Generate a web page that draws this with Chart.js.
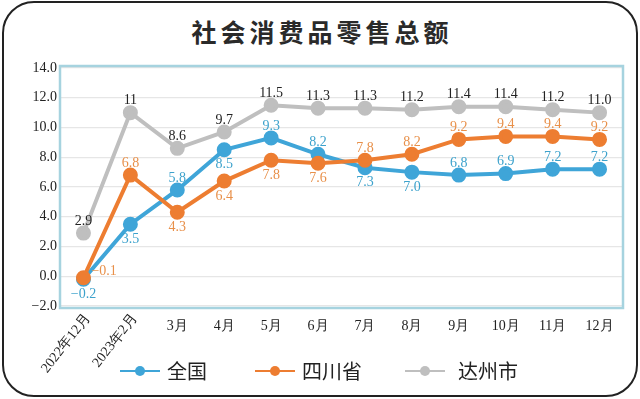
<!DOCTYPE html>
<html>
<head>
<meta charset="utf-8">
<script src="https://cdn.jsdelivr.net/npm/chart.js@4"></script>
<style>
  html, body { margin: 0; padding: 0; background: #fff; }
  #wrap { position: relative; width: 640px; height: 399px; overflow: hidden; }
  #frame { position: absolute; left: 2px; top: 1px; width: 632px; height: 392px;
    border: 2px solid #222; border-radius: 32px; }
  #title { position: absolute; left: 0; top: 13px; width: 640px; text-align: center;
    font: bold 25px "Noto Sans CJK SC"; color: #2a2a2a; letter-spacing: 4px; text-indent: 4px; }
  canvas { position: absolute; left: 0; top: 0; }
  #legend { position: absolute; top: 356px; left: 0; width: 640px; height: 30px; }
  .item { position: absolute; top: 0; height: 30px; font: 20px "Noto Sans CJK SC"; color: #222; line-height: 30px; }
  .mark { position: absolute; top: 14px; width: 40px; height: 2px; }
  .dot { position: absolute; left: 15px; top: -4px; width: 10px; height: 10px; border-radius: 50%; }
</style>
</head>
<body>
<div id="wrap">
  <div id="frame"></div>
  <div id="title">社会消费品零售总额</div>
  <canvas id="chart" width="640" height="399"></canvas>
  <div id="legend"></div>
</div>
<script>
const categories = ['2022年12月', '2023年2月', '3月', '4月', '5月', '6月', '7月', '8月', '9月', '10月', '11月', '12月'];
const seriesNames = ['全国', '四川省', '达州市'];
const national = [-0.2, 3.5, 5.8, 8.5, 9.3, 8.2, 7.3, 7.0, 6.8, 6.9, 7.2, 7.2];
const sichuan = [-0.1, 6.8, 4.3, 6.4, 7.8, 7.6, 7.8, 8.2, 9.2, 9.4, 9.4, 9.2];
const dazhou = [2.9, 11, 8.6, 9.7, 11.5, 11.3, 11.3, 11.2, 11.4, 11.4, 11.2, 11.0];
const dazhouText = ['2.9', '11', '8.6', '9.7', '11.5', '11.3', '11.3', '11.2', '11.4', '11.4', '11.2', '11.0'];
const yTicks = [-2, 0, 2, 4, 6, 8, 10, 12, 14];

// where each value label sits relative to its point
const nationalPos = ['below', 'below', 'above', 'below', 'above', 'above', 'below', 'below', 'above', 'above', 'above', 'above'];
const sichuanPos = ['right', 'above', 'below', 'below', 'below', 'below', 'above', 'above', 'above', 'above', 'above', 'above'];
const dazhouPos = dazhou.map(() => 'above');

const colors = ['#3fa5d8', '#ed7d31', '#bfbfbf'];
const labelColors = ['#3da2cc', '#e8904a', '#222'];
const serif = '"Liberation Serif", "DejaVu Serif", serif';

// legend
const legend = document.getElementById('legend');
[[120, 167], [255, 302], [405, 458]].forEach((p, i) => {
  const m = document.createElement('div');
  m.className = 'mark';
  m.style.left = p[0] + 'px';
  m.style.background = colors[i];
  const d = document.createElement('div');
  d.className = 'dot';
  d.style.background = colors[i];
  m.appendChild(d);
  legend.appendChild(m);
  const t = document.createElement('div');
  t.className = 'item';
  t.style.left = p[1] + 'px';
  t.textContent = seriesNames[i];
  legend.appendChild(t);
});

const texts = [national.map(v => v.toFixed(1)), sichuan.map(v => v.toFixed(1)), dazhouText];
const positions = [nationalPos, sichuanPos, dazhouPos];

const extras = {
  id: 'extras',
  beforeDatasetsDraw(chart) {
    const { ctx, chartArea: a } = chart;
    ctx.save();
    ctx.strokeStyle = '#a6d3df';
    ctx.lineWidth = 2.5;
    ctx.strokeRect(a.left, a.top - 2, a.right - a.left, a.bottom - a.top + 4);
    ctx.restore();
  },
  afterDatasetsDraw(chart) {
    const { ctx } = chart;
    const x = chart.scales.x;
    ctx.save();
    ctx.font = '14px ' + serif;
    ctx.fillStyle = '#222';
    categories.forEach((c, i) => {
      const px = x.getPixelForValue(i);
      if (i < 2) {
        ctx.save();
        ctx.translate(px + 4, 316);
        ctx.rotate(-52 * Math.PI / 180);
        ctx.textAlign = 'right';
        ctx.textBaseline = 'middle';
        ctx.fillText(c, 0, 0);
        ctx.restore();
      } else {
        ctx.textAlign = 'center';
        ctx.textBaseline = 'middle';
        ctx.fillText(c, px, 326);
      }
    });
    // value labels
    chart.data.datasets.forEach((ds, di) => {
      const s = ds.seriesIndex;
      const meta = chart.getDatasetMeta(di);
      ctx.fillStyle = labelColors[s];
      meta.data.forEach((pt, i) => {
        let tx = pt.x, ty = pt.y - 12;
        ctx.textAlign = 'center';
        if (positions[s][i] === 'below') ty = pt.y + 15;
        if (positions[s][i] === 'right') { tx = pt.x + 8; ty = pt.y - 6; ctx.textAlign = 'left'; }
        ctx.fillText(texts[s][i].replace('-', '\u2212'), tx, ty);
      });
    });
    ctx.restore();
  }
};

new Chart(document.getElementById('chart'), {
  type: 'line',
  data: {
    labels: categories,
    datasets: [
      { label: seriesNames[2], seriesIndex: 2, data: dazhou, borderColor: colors[2], backgroundColor: colors[2] },
      { label: seriesNames[1], seriesIndex: 1, data: sichuan, borderColor: colors[1], backgroundColor: colors[1] },
      { label: seriesNames[0], seriesIndex: 0, data: national, borderColor: colors[0], backgroundColor: colors[0] }
    ].map(d => Object.assign(d, { borderWidth: 4, pointRadius: 5.5, pointHoverRadius: 5.5, tension: 0 }))
  },
  options: {
    responsive: false,
    animation: false,
    events: [],
    layout: { padding: { left: 10, right: 17, top: 68, bottom: 93 } },
    plugins: { legend: { display: false }, tooltip: { enabled: false } },
    scales: {
      x: {
        offset: true,
        grid: { display: false },
        border: { display: false },
        ticks: { display: false },
        afterFit(s) { s.height = 0; }
      },
      y: {
        min: -2, max: 14,
        afterBuildTicks(s) { s.ticks = yTicks.map(v => ({ value: v })); },
        afterFit(s) { s.width = 50; },
        grid: { color: '#e6e6e6', lineWidth: 1.2, drawTicks: false },
        border: { display: false },
        ticks: {
          padding: 3,
          color: '#222',
          font: { family: serif, size: 14 },
          callback: v => v.toFixed(1).replace('-', '\u2212')
        }
      }
    }
  },
  plugins: [extras]
});
</script>
</body>
</html>
